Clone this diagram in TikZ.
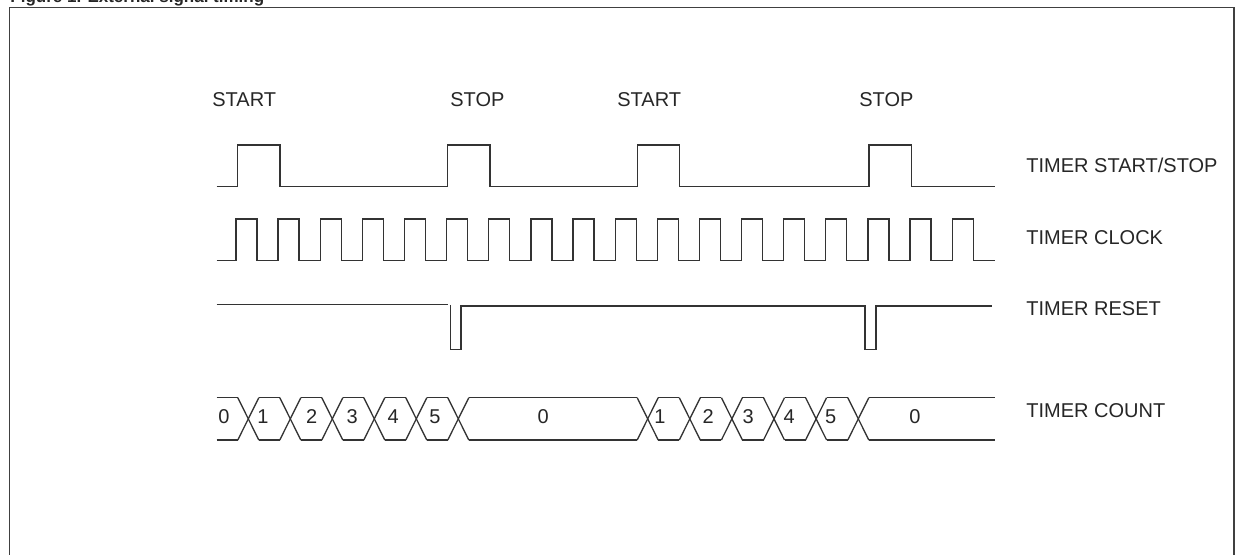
\documentclass[tikz,border=0pt]{standalone}
\usepackage{fontspec}
\setmainfont{Liberation Sans}
\begin{document}
\begin{tikzpicture}[x=0.5pt,y=-0.5pt,
  sig/.style={draw=black!80, line width=0.65pt, line join=miter},
  frm/.style={draw=black!75, line width=0.8pt},
  lbl/.style={font=\fontsize{10}{12}\selectfont, text=black!85, inner sep=0pt, anchor=base west},
  num/.style={font=\fontsize{10}{12}\selectfont, text=black!85, inner sep=0pt},
  ttl/.style={font=\fontsize{8.5}{10}\selectfont\bfseries, text=black!85, inner sep=0pt, anchor=base west}]
\useasboundingbox (0,0) rectangle (1238,555);
\clip (0,0) rectangle (1238,555);
% title (cut off at top) and frame
\node[ttl] (title) at (10,2.5) {Figure 1. External signal timing};
\draw[frm] (9.5,560) -- (9.5,7.5) -- (1234,7.5) -- (1234,560);
% top labels
\node[lbl] (start1) at (212,107) {START};
\node[lbl] (stop1) at (450,107) {STOP};
\node[lbl] (start2) at (617,107) {START};
\node[lbl] (stop2) at (859,107) {STOP};
% right labels
\node[lbl] (lss) at (1026,173) {TIMER START/STOP};
\node[lbl] (lclk) at (1026,244.5) {TIMER CLOCK};
\node[lbl] (lrst) at (1026,316) {TIMER RESET};
\node[lbl] (lcnt) at (1026,418) {TIMER COUNT};
% TIMER START/STOP
\draw[sig] (216.7,186.7)
  foreach \p in {237.7,447.7,637.3,869} { -- (\p,186.7) -- (\p,145) -- ({\p+42.3},145) -- ({\p+42.3},186.7) }
  -- (995,186.7);
% TIMER CLOCK
\draw[sig] (216.7,260.7)
  foreach \k in {0,...,17} { -- ({236+42.13*\k},260.7) -- ({236+42.13*\k},219) -- ({257+42.13*\k},219) -- ({257+42.13*\k},260.7) }
  -- (995,260.7);
% TIMER RESET
\draw[sig] (216.7,304.5) -- (448.3,304.5);
\draw[sig] (450.7,305) -- (450.7,349.3) -- (461,349.3) -- (461,306)
  -- (865,306) -- (865,349.3) -- (876,349.3) -- (876,306) -- (991.7,306);
% TIMER COUNT
\foreach \c in {248.3,290.3,332.3,374.3,416.3,458.3,647.7,689.8,731.9,774,816.1,858.3} {
  \draw[sig] ({\c-10.5},397.7) -- ({\c+10.5},440);
  \draw[sig] ({\c-10.5},440) -- ({\c+10.5},397.7);
}
\foreach \a/\b in {216.7/237.8, 258.8/279.8, 300.8/321.8, 342.8/363.8, 384.8/405.8, 426.8/447.8, 468.8/637.2,
  658.2/679.3, 700.3/721.4, 742.4/763.5, 784.5/805.6, 826.6/847.8, 868.8/995} {
  \draw[sig] (\a,397.7) -- (\b,397.7);
  \draw[sig] (\a,440) -- (\b,440);
}
% count values
\node[num] (c0a) at (224,416.7) {0};
\node[num] (c1a) at (263,416.7) {1};
\node[num] (c2a) at (311.7,416.7) {2};
\node[num] (c3a) at (352.3,416.7) {3};
\node[num] (c4a) at (393.3,416.7) {4};
\node[num] (c5a) at (435,416.7) {5};
\node[num] (c0b) at (543.3,416.7) {0};
\node[num] (c1b) at (660,416.7) {1};
\node[num] (c2b) at (708.3,416.7) {2};
\node[num] (c3b) at (748.3,416.7) {3};
\node[num] (c4b) at (789.3,416.7) {4};
\node[num] (c5b) at (830.7,416.7) {5};
\node[num] (c0c) at (915,416.7) {0};
\end{tikzpicture}
\end{document}
